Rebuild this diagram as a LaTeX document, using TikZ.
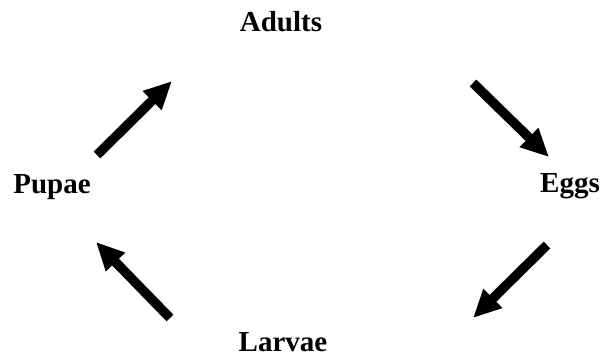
\documentclass[tikz,border=0pt]{standalone}
\usepackage{fontspec}
\setmainfont{Liberation Serif}
\usetikzlibrary{arrows.meta}

\begin{document}
\begin{tikzpicture}[x=1pt, y=-1pt, >={Triangle[length=28pt,width=25pt]},
        stage/.style={font=\fontsize{29}{34}\selectfont\bfseries, anchor=base, inner sep=0pt},
        lifearrow/.style={->, line width=9.5pt}]
        % Canvas
        \useasboundingbox (0,0) rectangle (602,356);
        
        % Life stages
        \node[stage] (adults) at (281,31) {Adults};
        \node[stage] (eggs) at (570,192) {Eggs};
        \node[stage] (larvae) at (283,351) {Larvae};
        \node[stage] (pupae) at (52,193) {Pupae};
        
        % Arrow ends
        \coordinate (pa1) at (97,155);
        \coordinate (pa2) at (172,81);
        \coordinate (ae1) at (473,83);
        \coordinate (ae2) at (549,157);
        \coordinate (el1) at (547,245);
        \coordinate (el2) at (473,318);
        \coordinate (lp1) at (170,318);
        \coordinate (lp2) at (96,242);
        
        % Cycle arrows
        \draw[lifearrow] (pa1) -- (pa2);
        \draw[lifearrow] (ae1) -- (ae2);
        \draw[lifearrow] (el1) -- (el2);
        \draw[lifearrow] (lp1) -- (lp2);
    \end{tikzpicture}
\end{document}
